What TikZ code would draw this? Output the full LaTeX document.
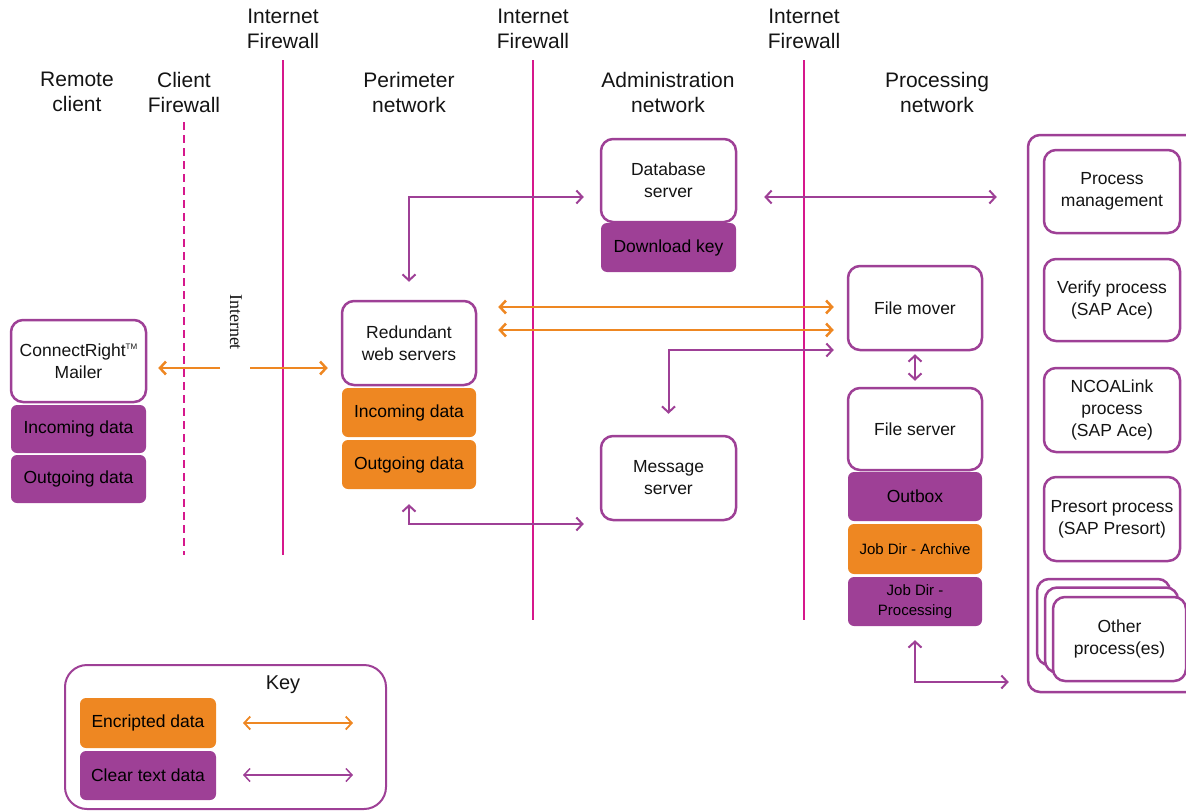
\documentclass[tikz,border=0pt]{standalone}
\usepackage{fontspec}
\setmainfont{Liberation Sans}
\newfontfamily\serifint{Liberation Serif}
\usetikzlibrary{arrows.meta}
\definecolor{pur}{RGB}{158,64,150}
\definecolor{org}{RGB}{238,135,34}
\definecolor{mag}{RGB}{214,24,140}
\definecolor{txt}{RGB}{20,20,20}
\begin{document}
\begin{tikzpicture}[x=1pt,y=-1pt,
  >={Straight Barb[length=6pt,width=13pt]},
  boxfont/.style={font=\fontsize{17.5}{22}\selectfont},
  wbox/.style={draw=pur, line width=2.5pt, fill=white, rounded corners=12pt, align=center, boxfont, text=txt, inner sep=0pt},
  pbox/.style={fill=pur, rounded corners=6pt, align=center, boxfont, text=black, inner sep=0pt},
  obox/.style={fill=org, rounded corners=6pt, align=center, boxfont, text=black, inner sep=0pt},
  hdr/.style={align=center, font=\fontsize{21}{25}\selectfont, text=txt},
  fwline/.style={draw=mag, line width=2.5pt},
  oline/.style={draw=org, line width=2.5pt},
  pline/.style={draw=pur, line width=2pt}]
\useasboundingbox (0,0) rectangle (1186,811);

% headers
\node[hdr] (hRemote) at (77,92) {Remote\\client};
\node[hdr] (hClient) at (184,92) {Client\\Firewall};
\node[hdr] (hFw1) at (283,29) {Internet\\Firewall};
\node[hdr] (hPer) at (409,92) {Perimeter\\network};
\node[hdr] (hFw2) at (533,29) {Internet\\Firewall};
\node[hdr] (hAdm) at (668,92) {Administration\\network};
\node[hdr] (hFw3) at (804,29) {Internet\\Firewall};
\node[hdr] (hProc) at (937,92) {Processing\\network};

% firewall lines
\draw[fwline, dash pattern=on 8pt off 5pt] (184,122) -- (184,555);
\draw[fwline] (283,60) -- (283,555);
\draw[fwline] (533,60) -- (533,620);
\draw[fwline] (804,60) -- (804,620);

% processing container
\node[draw=pur, line width=2.5pt, rounded corners=12pt, minimum width=172pt, minimum height=557pt, inner sep=0pt] (procnet) at (1114,413.5) {};

% remote client
\node[wbox, minimum width=135pt, minimum height=82pt] (mailer) at (78.5,361) {ConnectRight{\fontsize{8}{8}\selectfont\raisebox{7pt}{TM}}\\Mailer};
\node[pbox, minimum width=135pt, minimum height=48pt] (in1) at (78.5,429) {Incoming data};
\node[pbox, minimum width=135pt, minimum height=48pt] (out1) at (78.5,479) {Outgoing data};

% perimeter
\node[wbox, minimum width=134pt, minimum height=84pt] (web) at (409,343) {Redundant\\web servers};
\node[obox, minimum width=134pt, minimum height=49pt] (in2) at (409,412.5) {Incoming data};
\node[obox, minimum width=134pt, minimum height=49pt] (out2) at (409,464.5) {Outgoing data};

% administration
\node[wbox, minimum width=135pt, minimum height=83pt] (db) at (668.5,180.5) {Database\\server};
\node[pbox, minimum width=135pt, minimum height=49pt] (dlkey) at (668.5,247.5) {Download key};
\node[wbox, minimum width=135pt, minimum height=84pt] (msg) at (668.5,478) {Message\\server};

% processing network
\node[wbox, minimum width=134pt, minimum height=84pt] (fmover) at (915,308) {File mover};
\node[wbox, minimum width=134pt, minimum height=82pt] (fserver) at (915,429) {File server};
\node[pbox, minimum width=134pt, minimum height=49pt] (outbox) at (915,496.5) {Outbox};
\node[obox, minimum width=134pt, minimum height=50pt, font=\fontsize{15}{19}\selectfont] (archive) at (915,549) {Job Dir - Archive};
\node[pbox, minimum width=134pt, minimum height=49pt, font=\fontsize{15}{20}\selectfont] (jobproc) at (915,601.5) {Job Dir -\\Processing};

% processes
\node[wbox, minimum width=136pt, minimum height=83pt] (pm) at (1112,191.5) {Process\\management};
\node[wbox, minimum width=136pt, minimum height=82pt] (verify) at (1112,300) {Verify process\\(SAP Ace)};
\node[wbox, minimum width=136pt, minimum height=84pt] (ncoa) at (1112,410) {NCOALink\\process\\(SAP Ace)};
\node[wbox, minimum width=136pt, minimum height=84pt] (presort) at (1112,519) {Presort process\\(SAP Presort)};
\node[wbox, minimum width=133pt, minimum height=86pt] (other3) at (1103.5,622) {};
\node[wbox, minimum width=133pt, minimum height=85pt] (other2) at (1111.5,630) {};
\node[wbox, minimum width=133pt, minimum height=84pt] (other1) at (1119.5,639) {Other\\process(es)};

% internet label
\node[rotate=-90, font=\serifint\fontsize{18}{18}\selectfont, text=txt] (inet) at (236,322) {Internet};

% connectors
\coordinate (gapL) at (220,368);
\coordinate (gapR) at (250,368);
\draw[oline,->, shorten >=11pt] (gapL) -- (mailer.east |- gapL);
\draw[oline,->, shorten >=13pt] (gapR) -- (web.west |- gapR);

\draw[pline,<->, shorten <=18pt, shorten >=16pt] (web.north) |- ([yshift=-16.5pt]db.west);
\draw[pline,<->, shorten <=27pt, shorten >=46pt] ([yshift=-16.5pt]db.east) -- ([yshift=-5.5pt]pm.west);
\draw[oline,<->, shorten <=21pt, shorten >=13pt] ([yshift=36pt]web.east) -- ([yshift=1pt]fmover.west);
\draw[oline,<->, shorten <=21pt, shorten >=13pt] ([yshift=13pt]web.east) -- ([yshift=-22pt]fmover.west);
\draw[pline,<->, shorten <=21pt, shorten >=13pt] (msg.north) |- ([yshift=-42pt]fmover.west);
\draw[pline,<->, shorten <=3pt, shorten >=6pt] (fmover.south) -- (fserver.north);
\draw[pline,<->, shorten <=15pt, shorten >=16pt] (out2.south) |- ([yshift=-46pt]msg.west);
\draw[pline,<->, shorten <=14pt, shorten >=18pt] (jobproc.south) |- ([yshift=-268.5pt]procnet.west);

% key
\node[draw=pur, line width=2pt, rounded corners=22pt, minimum width=321pt, minimum height=144pt, inner sep=0pt] (keybox) at (225.5,737) {};
\node[font=\fontsize{20}{24}\selectfont, text=txt] (keylbl) at (283,685) {Key};
\node[obox, minimum width=136pt, minimum height=50pt] (enc) at (148,723) {Encripted data};
\node[pbox, minimum width=136pt, minimum height=49pt] (clear) at (148,775.5) {Clear text data};
\coordinate (k1a) at (243,723);
\coordinate (k1b) at (353,723);
\coordinate (k2a) at (243,775);
\coordinate (k2b) at (353,775);
\draw[oline, line width=1.8pt, <->] (k1a) -- (k1b);
\draw[pline, line width=1.5pt, <->] (k2a) -- (k2b);
\end{tikzpicture}
\end{document}
